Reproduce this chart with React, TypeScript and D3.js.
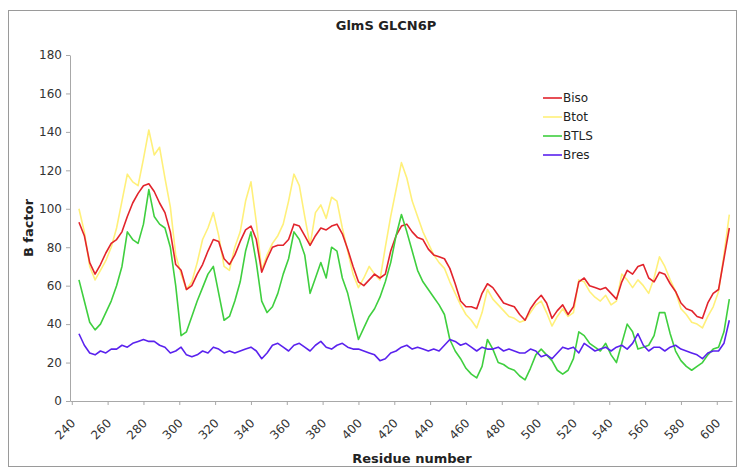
import React, { useEffect, useRef } from 'react';
import * as d3 from 'd3';

// residue numbers sampled every 3 residues
const residues = d3.range(244, 608, 3);

const biso = [
  93, 86, 72, 66, 71, 77, 82, 84, 88, 96, 103, 108, 112, 113, 109, 103, 98, 88, 71, 68,
  58, 60, 66, 71, 78, 84, 83, 74, 71, 76, 83, 89, 91, 84, 67, 74, 80, 81, 81, 84,
  92, 91, 86, 81, 86, 90, 89, 91, 92, 87, 79, 70, 62, 60, 63, 66, 64, 66, 78, 86,
  91, 92, 88, 85, 84, 79, 76, 75, 74, 69, 61, 52, 49, 49, 48, 56, 61, 59, 55, 51,
  50, 49, 45, 42, 48, 52, 55, 51, 43, 47, 50, 45, 49, 62, 64, 60, 59, 58, 59, 56,
  53, 62, 68, 66, 70, 71, 64, 62, 67, 66, 61, 57, 51, 48, 47, 44, 43, 51, 56, 58,
  74, 90,
];

const btot = [
  100, 88, 70, 63, 68, 73, 80, 90, 104, 118, 114, 112, 126, 141, 128, 132, 116, 101, 76, 66,
  58, 62, 72, 84, 90, 98, 86, 70, 68, 80, 88, 104, 114, 93, 68, 76, 82, 86, 92, 104,
  118, 112, 96, 81, 98, 102, 95, 106, 104, 90, 78, 66, 59, 64, 70, 66, 63, 80, 96, 110,
  124, 116, 104, 96, 88, 82, 76, 72, 69, 62, 56, 50, 45, 42, 38, 46, 58, 53, 50, 47,
  44, 43, 41, 42, 46, 50, 52, 46, 39, 44, 48, 44, 46, 63, 62, 57, 54, 52, 55, 50,
  52, 66, 63, 59, 63, 60, 56, 64, 75, 70, 63, 57, 48, 45, 41, 40, 38, 44, 49, 57,
  76, 97,
];

const btls = [
  63, 52, 41, 37, 40, 46, 52, 60, 70, 88, 84, 82, 92, 110, 96, 92, 90, 80, 60, 34,
  36, 44, 52, 59, 66, 70, 56, 42, 44, 52, 62, 78, 88, 72, 52, 46, 49, 56, 66, 74,
  88, 84, 76, 56, 64, 72, 64, 80, 78, 64, 56, 44, 32, 38, 44, 48, 54, 62, 72, 86,
  97, 88, 78, 68, 62, 58, 54, 50, 45, 32, 26, 22, 17, 14, 12, 18, 32, 27, 20, 19,
  17, 16, 13, 11, 17, 24, 27, 24, 21, 16, 14, 16, 22, 36, 34, 30, 28, 26, 30, 24,
  20, 30, 40, 36, 27, 28, 29, 34, 46, 46, 35, 26, 21, 18, 16, 18, 20, 24, 27, 28,
  36, 53,
];

const bres = [
  35, 29, 25, 24, 26, 25, 27, 27, 29, 28, 30, 31, 32, 31, 31, 29, 28, 25, 26, 28,
  24, 23, 24, 26, 25, 28, 27, 25, 26, 25, 26, 27, 28, 26, 22, 25, 29, 30, 28, 26,
  29, 30, 28, 26, 29, 31, 28, 27, 29, 30, 28, 27, 27, 26, 25, 24, 21, 22, 25, 26,
  28, 29, 27, 28, 27, 26, 27, 26, 29, 32, 31, 29, 30, 28, 26, 28, 27, 27, 28, 26,
  27, 26, 25, 25, 27, 26, 23, 24, 22, 25, 28, 27, 28, 25, 30, 28, 26, 27, 28, 26,
  28, 29, 27, 30, 35, 29, 26, 28, 28, 26, 28, 29, 27, 26, 25, 24, 22, 25, 26, 26,
  30, 42,
];

const seriesNames = ['Biso', 'Btot', 'BTLS', 'Bres'];
const seriesValues = [biso, btot, btls, bres];
const yTicks = d3.range(0, 181, 20);
const xTicks = d3.range(240, 601, 20);

const App = () => {
  const ref = useRef<SVGSVGElement>(null);

  useEffect(() => {
    const svg = d3.select(ref.current);
    svg.selectAll('*').remove();

    const font = 'DejaVu Sans, Verdana, sans-serif';
    const colors: Record<string, string> = {
      Biso: '#e2242c',
      Btot: '#fff07a',
      BTLS: '#3fcf3f',
      Bres: '#5a22ee',
    };

    const x = d3.scaleLinear().domain([239, 608.5]).range([70, 732]);
    const y = d3.scaleLinear().domain([0, 180]).range([401, 55]);

    // chart frame
    svg.append('rect')
      .attr('x', 8.5).attr('y', 10.5)
      .attr('width', 728).attr('height', 456)
      .attr('fill', '#fff')
      .attr('stroke', '#9a9a9a');

    svg.append('text')
      .attr('x', 386).attr('y', 30)
      .attr('text-anchor', 'middle')
      .attr('font-family', font)
      .attr('font-weight', 'bold')
      .attr('font-size', 13)
      .attr('fill', '#222')
      .text('GlmS GLCN6P');

    // y axis
    const gy = svg.append('g')
      .attr('transform', 'translate(70,0)')
      .call(d3.axisLeft(y).tickValues(yTicks).tickSize(4).tickSizeOuter(0).tickPadding(4));
    gy.selectAll('path, line').attr('stroke', '#a8a8a8');
    gy.selectAll('text')
      .attr('font-family', font).attr('font-size', 12).attr('fill', '#333');

    // x axis
    const gx = svg.append('g')
      .attr('transform', 'translate(0,401)')
      .call(d3.axisBottom(x).tickValues(xTicks).tickSize(4).tickSizeOuter(0));
    gx.selectAll('path, line').attr('stroke', '#a8a8a8');
    gx.selectAll('.tick text').remove();
    gx.selectAll('.tick')
      .append('text')
      .attr('transform', 'translate(1,20) rotate(-45)')
      .attr('text-anchor', 'end')
      .attr('dy', '0.35em')
      .attr('font-family', font)
      .attr('font-size', 12)
      .attr('fill', '#333')
      .text(d => String(d));

    svg.append('text')
      .attr('transform', 'translate(33,228) rotate(-90)')
      .attr('text-anchor', 'middle')
      .attr('font-family', font)
      .attr('font-weight', 'bold')
      .attr('font-size', 13)
      .attr('fill', '#222')
      .text('B factor');

    svg.append('text')
      .attr('x', 412).attr('y', 463)
      .attr('text-anchor', 'middle')
      .attr('font-family', font)
      .attr('font-weight', 'bold')
      .attr('font-size', 13)
      .attr('fill', '#222')
      .text('Residue number');

    const line = d3.line<number>()
      .x((_, i) => x(residues[i]))
      .y(d => y(d));

    // Btot underneath, then the rest in order
    const drawOrder = ['Btot', 'Biso', 'BTLS', 'Bres'];
    drawOrder.forEach(name => {
      const vals = seriesValues[seriesNames.indexOf(name)];
      svg.append('path')
        .datum(vals)
        .attr('fill', 'none')
        .attr('stroke', colors[name])
        .attr('stroke-width', 1.6)
        .attr('stroke-linejoin', 'round')
        .attr('d', line);
    });

    // legend
    const lg = svg.append('g');
    seriesNames.forEach((name, i) => {
      const ly = 98 + i * 19;
      lg.append('line')
        .attr('x1', 543).attr('x2', 562)
        .attr('y1', ly).attr('y2', ly)
        .attr('stroke', colors[name])
        .attr('stroke-width', 1.6);
      lg.append('text')
        .attr('x', 563).attr('y', ly)
        .attr('dy', '0.35em')
        .attr('font-family', font)
        .attr('font-size', 12)
        .attr('fill', '#222')
        .text(name);
    });
  }, []);

  return (
    <svg
      ref={ref}
      width={741}
      height={472}
      style={{ position: 'absolute', left: 0, top: 0, background: '#fff' }}
    />
  );
};

export default App;
